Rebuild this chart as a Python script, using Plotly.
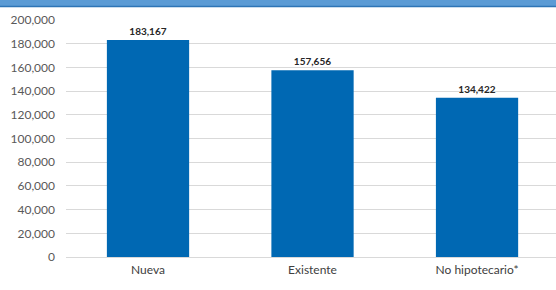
import plotly.graph_objects as go

categories = ["Nueva", "Existente", "No hipotecario*"]
values = [183167, 157656, 134422]
labels = ["183,167", "157,656", "134,422"]
y_ticks = [0, 20000, 40000, 60000, 80000, 100000, 120000, 140000, 160000, 180000, 200000]

W, H = 556, 290
ml, mr, mt, mb = 66, 0, 20, 33
ph = H - mt - mb
pw = W - ml - mr

fig = go.Figure(go.Bar(
    x=categories, y=values, text=labels, textposition="outside",
    marker=dict(color="#0068B3", line=dict(width=0)),
    width=0.5, cliponaxis=False,
    textfont=dict(family="Lato", size=10, color="#262626", weight="bold"),
))

fig.update_layout(
    width=W, height=H,
    margin=dict(l=ml, r=mr, t=mt, b=mb),
    plot_bgcolor="white", paper_bgcolor="white",
    showlegend=False,
    font=dict(family="Lato"),
    xaxis=dict(range=[-0.4985, 2.48], showgrid=False, showline=False, ticks="",
               ticklabelstandoff=4,
               tickfont=dict(size=12, color="#404040")),
    yaxis=dict(range=[0, 200000], tickvals=y_ticks,
               tickformat=",d", showgrid=True, gridcolor="#D9D9D9", gridwidth=1,
               zeroline=True, zerolinecolor="#D9D9D9", zerolinewidth=1,
               showline=False, ticks="", ticklabelstandoff=10,
               tickfont=dict(size=12, color="#595959")),
    shapes=[
        dict(type="rect", xref="paper", yref="paper",
             x0=-ml / pw, x1=1 + 2 / pw, y0=1 + (mt - 6) / ph, y1=1 + (mt + 2) / ph,
             fillcolor="#5B9BD5", line=dict(width=0), layer="above"),
        dict(type="line", xref="paper", yref="paper",
             x0=-ml / pw, x1=1 + 2 / pw, y0=1 + (mt - 6.5) / ph, y1=1 + (mt - 6.5) / ph,
             line=dict(color="#2E75B6", width=1.5), layer="above"),
    ],
)

fig.write_html("out.html", config={"displayModeBar": False},
               post_script="document.body.style.margin='0';document.body.style.overflow='hidden';")
